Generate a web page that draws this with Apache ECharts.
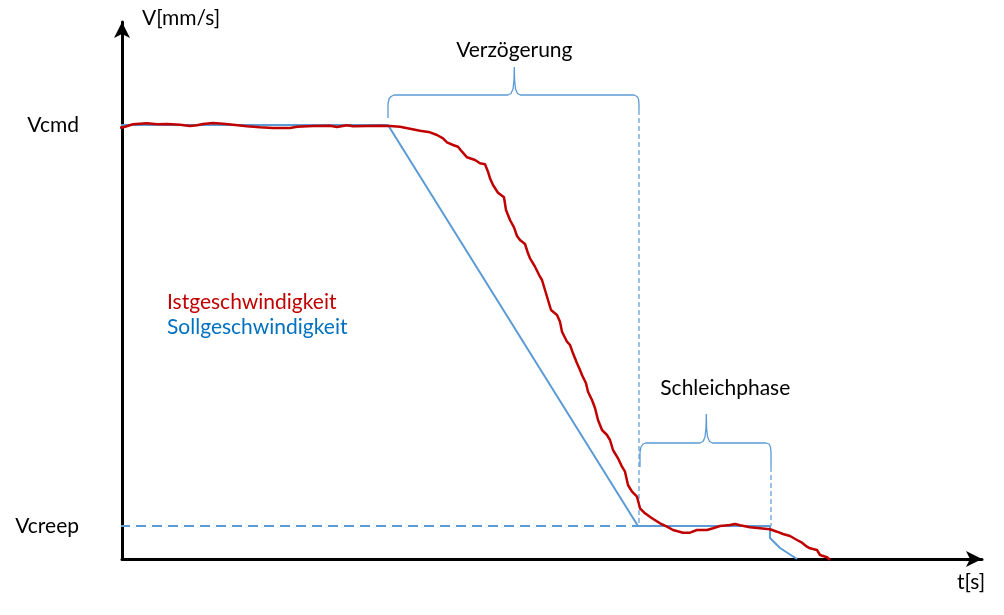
<!DOCTYPE html>
<html><head><meta charset="utf-8">
<script src="https://cdn.jsdelivr.net/npm/echarts@6/dist/echarts.min.js"></script>
<style>html,body{margin:0;padding:0;background:#fff}#c{width:1004px;height:615px}</style>
</head><body><div id="c"></div>
<script>
// Istgeschwindigkeit (actual speed) [t, v]
const actualSpeed = [
[-2,431.3],[3,432.3],[11,434.7],[25,435.7],[35,434.7],[45,435],[58,434.3],[68,433],[75,433.7],[81,435],[91,436],[101,435.3],[111,434.3],[125,432.7],[138,431.7],[151,431],[168,431],[175,432.3],[191,433],[208,433.3],[215,432],[225,433.7],[231,432.7],[245,433],[258,433.3],[268,433],[278,432.3],[288,430.3],[298,428.3],[308,426.7],[315,424],[321,420.7],[325,416.7],[331,414],[336,412.3],[340,407.3],[345,401.7],[353,399],[358,395.7],[363,394.7],[366,387.3],[368,380.7],[371,374],[376,366.3],[382,361.7],[384,349],[388,339],[392,331.7],[395,323],[398,319],[403,315],[406,305.7],[408,300.7],[413,292.3],[418,282.3],[420,279],[423,269],[426,259],[429,249],[435,244],[438,237.3],[440,227.3],[445,217.3],[448,214],[451,205.7],[455,195.7],[458,189],[460,184],[464,175.7],[466,167.3],[470,159],[473,151],[476,139],[480,129],[485,124],[488,119],[491,109],[496,100.7],[500,92.3],[503,87.3],[506,74],[510,67.3],[515,62.3],[518,50.7],[523,45.7],[530,40.7],[538,35.7],[545,32.3],[551,29],[561,26.3],[568,26.3],[575,29],[585,29],[591,30.7],[598,33],[608,34],[613,35],[618,33.7],[628,31.7],[638,30.7],[648,29.7],[655,27.3],[661,25],[668,23],[675,19],[680,16.3],[685,12.3],[688,10.7],[695,9],[698,4],[705,1.7],[708,-1]
];
// Sollgeschwindigkeit (target speed) [t, v]
const targetSpeed = [[-18,434],[0,434],[266,434],[516,33],[648,33],[648,21],[658,11],[675,0]];
// Reference lines
const creepLine = [[-18,33],[516,33]];
const decelEndLine = [[517,449],[517,33]];
const creepEndLine = [[649,92],[649,33]];
// Curly brackets
const bracketDecel = [[266,441],[266,455],[267,460],[269,462.5],[272,464],[386,464],[389,465.5],[391,470],[392,479],[392.3,492],[392.6,479],[393.5,470],[395.5,465.5],[398.5,464],[512,464],[515,462.5],[516.5,460],[517,455],[517,449]];
const bracketCreep = [[518,92],[518,107],[519,112],[521,115],[524,116],[578,116],[581,117.5],[583,122],[584,131],[584.3,145],[584.6,131],[585.6,122],[587.6,117.5],[590.6,116],[644,116],[647,115],[648.5,112],[649,107],[649,92]];
const bracketLabels = ['Verzögerung','Schleichphase'];
const yTickValues = [33, 434];
const yTickLabels = ['Vcreep', 'Vcmd'];
const seriesNames = ['Istgeschwindigkeit', 'Sollgeschwindigkeit'];

const FONT = 'Lato';
const FS = 21;
const BLUE = '#5B9BD5';
const RED = '#C00000';

function tipMark(arr, tipIdx, text, dist, offset){
  return {
    silent:true, symbol:'circle', symbolSize:0, animation:false,
    data:[{coord:arr[tipIdx], label:{show:true, formatter:text, position:'top', distance:dist, offset:offset, color:'#000', fontFamily:FONT, fontSize:FS}}]
  };
}

const chart = echarts.init(document.getElementById('c'));
chart.setOption({
  animation:false,
  backgroundColor:'#fff',
  grid:{left:122, right:22, top:22, bottom:56},
  legend:{
    orient:'vertical', left:156, top:287, itemWidth:0, itemHeight:0, itemGap:4, selectedMode:false,
    textStyle:{fontFamily:FONT, fontSize:FS},
    data:[{name:seriesNames[0], textStyle:{color:RED}},{name:seriesNames[1], textStyle:{color:'#0070C0'}}]
  },
  xAxis:{
    type:'value', min:0, max:860,
    axisLine:{show:true, onZero:true, symbol:['none','arrow'], symbolSize:[12,16], lineStyle:{color:'#000', width:3}},
    axisTick:{show:false}, axisLabel:{show:false}, splitLine:{show:false},
    name:'t[s]', nameLocation:'end', nameGap:-11,
    nameTextStyle:{fontFamily:FONT, fontSize:FS, color:'#000', align:'center', verticalAlign:'top', padding:[13,0,0,0]}
  },
  yAxis:{
    type:'value', min:0, max:537,
    axisLine:{show:true, onZero:true, symbol:['none','arrow'], symbolSize:[12,16], lineStyle:{color:'#000', width:3}},
    axisTick:{show:false}, splitLine:{show:false},
    axisLabel:{show:true, customValues:yTickValues, margin:43, fontFamily:FONT, fontSize:FS, color:'#000',
      formatter:function(v){ const i = yTickValues.indexOf(v); return i>=0 ? yTickLabels[i] : ''; }},
    name:'V[mm/s]', nameLocation:'end', nameGap:4,
    nameTextStyle:{fontFamily:FONT, fontSize:FS, color:'#000', align:'left', verticalAlign:'middle', padding:[0,0,0,20]}
  },
  series:[
    {type:'line', data:creepLine, symbol:'none', clip:false, lineStyle:{color:BLUE, width:2, type:[10,6]}, silent:true},
    {type:'line', data:decelEndLine, symbol:'none', clip:false, lineStyle:{color:BLUE, width:1.2, type:[5,3]}, silent:true},
    {type:'line', data:creepEndLine, symbol:'none', clip:false, lineStyle:{color:BLUE, width:1.2, type:[5,3]}, silent:true},
    {type:'line', data:bracketDecel, symbol:'none', clip:false, lineStyle:{color:BLUE, width:1.3}, silent:true,
      markPoint:tipMark(bracketDecel, 9, bracketLabels[0], 6, [0,0])},
    {type:'line', data:bracketCreep, symbol:'none', clip:false, lineStyle:{color:BLUE, width:1.3}, silent:true,
      markPoint:tipMark(bracketCreep, 9, bracketLabels[1], 15, [19,0])},
    {name:seriesNames[1], type:'line', data:targetSpeed, symbol:'none', clip:false, lineStyle:{color:BLUE, width:2}, itemStyle:{color:BLUE}},
    {name:seriesNames[0], type:'line', data:actualSpeed, symbol:'none', clip:false, lineStyle:{color:RED, width:2.5, join:'round'}, itemStyle:{color:RED}}
  ]
});
</script>
</body></html>
